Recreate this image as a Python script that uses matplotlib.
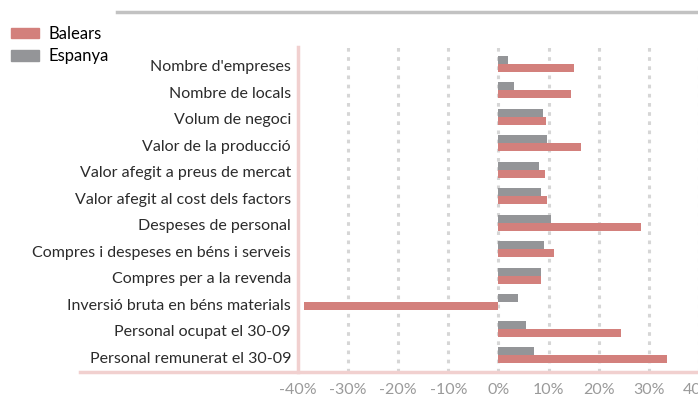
import matplotlib

matplotlib.use("Agg")
import matplotlib.pyplot as plt
from matplotlib.lines import Line2D
from matplotlib.ticker import FuncFormatter

plt.rcParams["font.family"] = ["Lato", "DejaVu Sans"]

categories = [
    "Nombre d'empreses",
    "Nombre de locals",
    "Volum de negoci",
    "Valor de la producció",
    "Valor afegit a preus de mercat",
    "Valor afegit al cost dels factors",
    "Despeses de personal",
    "Compres i despeses en béns i serveis",
    "Compres per a la revenda",
    "Inversió bruta en béns materials",
    "Personal ocupat el 30-09",
    "Personal remunerat el 30-09",
]
balears = [15.0, 14.4, 9.4, 16.4, 9.2, 9.6, 28.4, 11.0, 8.4, -38.8, 24.4, 33.6]
espanya = [1.8, 3.0, 8.8, 9.6, 8.0, 8.4, 10.4, 9.0, 8.4, 3.8, 5.4, 7.0]
xticks = [-40, -30, -20, -10, 0, 10, 20, 30, 40]

pink = "#d3807c"
grey = "#949598"
W, H = 698, 401

fig = plt.figure(figsize=(W / 100, H / 100), dpi=100)
ax = fig.add_axes([298 / W, 29 / H, 401 / W, 325 / H])

pos = list(range(len(categories)))
h = 0.30
ax.barh([p - h for p in pos], espanya, height=h, align="edge", color=grey, zorder=3)
ax.barh(pos, balears, height=h, align="edge", color=pink, zorder=3)

ax.set_xlim(-40, 40)
ax.set_ylim(len(categories) - 1 + 0.63, -0.63)
ax.set_xticks(xticks)
ax.xaxis.set_major_formatter(FuncFormatter(lambda v, _: f"{v:.0f}%"))
ax.set_yticks([p + 0.08 for p in pos])
ax.set_yticklabels(categories)

ax.tick_params(axis="x", length=0, pad=8, labelsize=11.5, labelcolor="#9a9a9a")
ax.tick_params(axis="y", length=0, pad=5, labelsize=11.5, labelcolor="#2b2b2b")

for s in ["top", "right", "bottom"]:
    ax.spines[s].set_visible(False)
ax.spines["left"].set_color("#f1d0cf")
ax.spines["left"].set_linewidth(2.5)

for t in xticks[1:]:
    ax.axvline(t, color="#d6d6d6", linestyle=(0, (1.2, 1.8)), linewidth=2.2, zorder=1)

# bottom rule and top rule
fig.add_artist(Line2D([80 / W, 1], [1 - 372 / H] * 2, color="#f1d0cf", linewidth=2.5))
fig.add_artist(Line2D([117 / W, 1], [1 - 12 / H] * 2, color="#c2c2c2", linewidth=2.5))

handles = [
    plt.Rectangle((0, 0), 1, 1, color=pink),
    plt.Rectangle((0, 0), 1, 1, color=grey),
]
fig.legend(handles, ["Balears", "Espanya"], loc="upper left",
           bbox_to_anchor=(6 / W, 1 - 21 / H), frameon=False, fontsize=12,
           handlelength=1.7, handleheight=0.6, handletextpad=0.55,
           labelspacing=0.38, borderaxespad=0, borderpad=0.3)

fig.savefig("out.png", dpi=100)
